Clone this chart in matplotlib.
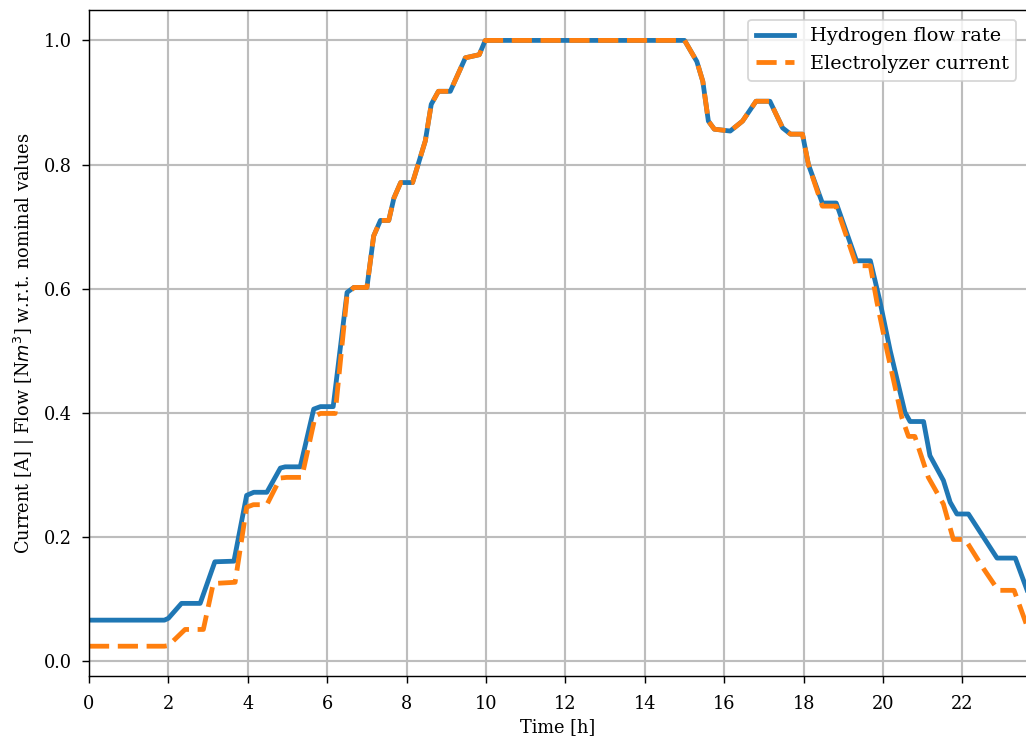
import numpy as np
import matplotlib
matplotlib.use("Agg")
import matplotlib.pyplot as plt

plt.rcParams['font.family'] = 'DejaVu Serif'
plt.rcParams['font.size'] = 10

# hydrogen flow rate (relative to nominal)
t_flow = [0, 1.9, 2.0, 2.33, 2.8, 3.17, 3.65, 3.97, 4.15, 4.48, 4.82, 4.94, 5.32,
          5.66, 5.83, 6.15, 6.5, 6.67, 7.0, 7.17, 7.34, 7.55, 7.68, 7.85, 8.15,
          8.47, 8.62, 8.8, 9.1, 9.48, 9.83, 9.98, 15.0, 15.31, 15.46, 15.6, 15.75,
          16.15, 16.46, 16.8, 17.15, 17.47, 17.67, 17.97, 18.12, 18.47, 18.82,
          19.33, 19.68, 19.92, 20.18, 20.55, 20.68, 21.02, 21.18, 21.52, 21.69,
          21.86, 22.15, 22.87, 23.33, 23.75]
flow = [0.066, 0.066, 0.069, 0.093, 0.093, 0.160, 0.161, 0.267, 0.272, 0.272, 0.311,
        0.313, 0.313, 0.406, 0.41, 0.41, 0.594, 0.602, 0.602, 0.685, 0.71, 0.71,
        0.746, 0.771, 0.771, 0.838, 0.897, 0.918, 0.918, 0.972, 0.977, 1.0, 1.0,
        0.966, 0.934, 0.870, 0.857, 0.854, 0.870, 0.902, 0.902, 0.859, 0.849,
        0.849, 0.80, 0.738, 0.738, 0.645, 0.645, 0.58, 0.50, 0.401, 0.386, 0.386,
        0.331, 0.291, 0.256, 0.237, 0.237, 0.166, 0.166, 0.093]

# electrolyzer current (relative to nominal)
t_curr = [0, 1.9, 2.0, 2.42, 2.88, 3.13, 3.68, 3.97, 4.14, 4.48, 4.82, 4.98, 5.36,
          5.7, 5.83, 6.2, 6.5, 6.67, 7.0, 7.17, 7.34, 7.55, 7.68, 7.85, 8.15,
          8.47, 8.62, 8.8, 9.1, 9.48, 9.83, 9.98, 15.0, 15.31, 15.46, 15.6, 15.75,
          16.15, 16.46, 16.8, 17.15, 17.47, 17.67, 17.97, 18.12, 18.47, 18.82,
          19.33, 19.68, 19.84, 20.1, 20.47, 20.64, 20.8, 21.14, 21.52, 21.77,
          22.07, 22.53, 22.9, 23.3, 23.6, 23.75]
current = [0.024, 0.024, 0.025, 0.051, 0.051, 0.125, 0.127, 0.248, 0.252, 0.252,
           0.295, 0.296, 0.296, 0.395, 0.399, 0.399, 0.59, 0.602, 0.602, 0.685,
           0.71, 0.71, 0.746, 0.771, 0.771, 0.838, 0.897, 0.918, 0.918, 0.972,
           0.977, 1.0, 1.0, 0.966, 0.934, 0.870, 0.857, 0.854, 0.870, 0.902, 0.902,
           0.859, 0.849, 0.849, 0.80, 0.733, 0.733, 0.637, 0.637, 0.58, 0.5, 0.393,
           0.362, 0.362, 0.296, 0.253, 0.196, 0.196, 0.149, 0.114, 0.114, 0.061,
           0.035]

x_ticks = np.arange(0, 23, 2)

fig = plt.figure(figsize=(1026 / 128, 739 / 128), dpi=128)
ax = fig.add_axes([89 / 1026, 63 / 739, 1 - 89 / 1026, (676 - 10) / 739])

ax.plot(t_flow, flow, color='tab:blue', lw=2.7, label='Hydrogen flow rate')
ax.plot(t_curr, current, color='tab:orange', lw=2.7, ls='--', dashes=(4.2, 1.8),
        label='Electrolyzer current')

ax.set_xlim(0, 23.6)
ax.set_ylim(-0.024, 1.049)
ax.set_xticks(x_ticks)
ax.tick_params(length=4.2, pad=5.5)
ax.tick_params(axis='x', pad=6.5)
ax.grid(True, color='#bdbdbd', lw=1.2)
ax.spines['right'].set_visible(False)
ax.set_xlabel('Time [h]', labelpad=3)
ax.set_ylabel('Current [A] | Flow [N$m^3$] w.r.t. nominal values')
ax.legend(loc='upper right', fontsize=10.8)

plt.savefig("out.png", dpi=128)
